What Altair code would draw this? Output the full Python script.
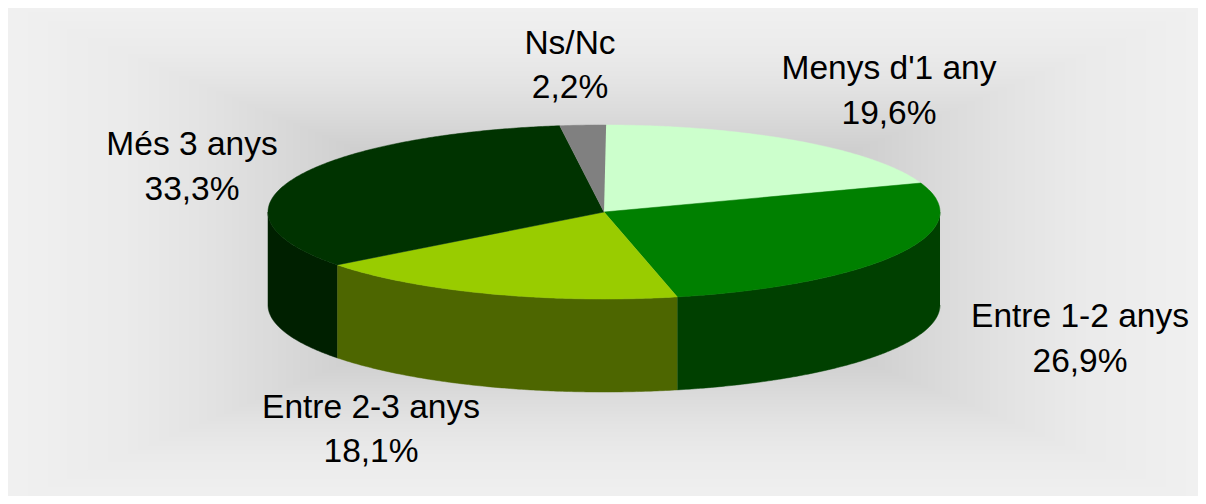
import numpy as np
import pandas as pd
import altair as alt

# Slices, clockwise from 12 o'clock
names = ["Menys d'1 any", "Entre 1-2 anys", "Entre 2-3 anys", "Més 3 anys", "Ns/Nc"]
shares = [19.6, 26.9, 18.1, 33.3, 2.2]
share_text = ["19,6%", "26,9%", "18,1%", "33,3%", "2,2%"]
top_colors = ["#ccffcc", "#008000", "#99cc00", "#003300", "#808080"]
wall_colors = ["#669966", "#004000", "#4d6600", "#002000", "#404040"]

# Label centres in page pixels
label_x = [889, 1080, 371, 192, 570]
label_y1 = [69, 317, 408, 145, 44]
label_y2 = [114, 362, 452, 190, 88]

# Pie layout in page pixels
CX, CY, RX, RY, DEPTH = 604, 212, 336, 87, 93
W, H = 1190, 488
LEFT, TOP = 8, 8

# Backdrop: nested boxes, one per grey level; stops of relative size against grey
stop_size = [1.0, 0.80, 0.68, 0.56, 0.44, 0.30, 0.20]
stop_grey = [240, 234, 227, 218, 208, 196, 188]
BOX_CX, BOX_CY, BOX_W, BOX_H = 607, 254, 599, 250

band_grey = list(range(240, 187, -1))
band_size = [float(np.interp(g, stop_grey[::-1], stop_size[::-1])) for g in band_grey]

bands = pd.DataFrame({
    "x": [max(LEFT, BOX_CX - s * BOX_W) for s in band_size],
    "x2": [min(LEFT + W, BOX_CX + s * BOX_W) for s in band_size],
    "y": [max(TOP, BOX_CY - s * BOX_H) for s in band_size],
    "y2": [min(TOP + H, BOX_CY + s * BOX_H) for s in band_size],
    "c": ["#%02x%02x%02x" % (g, g, g) for g in band_grey],
    "i": list(range(len(band_size))),
})

def pt(deg, dy=0.0):
    r = np.radians(deg)
    return CX + RX * np.sin(r), CY - RY * np.cos(r) + dy

tops, walls = [], []
start = 0.0
for name, share, tc, wc in zip(names, shares, top_colors, wall_colors):
    end = start + share * 3.6
    angles = np.linspace(start, end, max(2, int((end - start) * 2)))
    poly = [(CX, CY)] + [pt(a) for a in angles]
    tops += [{"n": name, "k": k, "x": p[0], "y": p[1], "c": tc} for k, p in enumerate(poly)]
    lo, hi = max(start, 90), min(end, 270)
    if hi > lo:
        arc = np.linspace(lo, hi, max(2, int((hi - lo) * 2)))
        poly = [pt(a) for a in arc] + [pt(a, DEPTH) for a in arc[::-1]]
        walls += [{"n": name, "k": k, "x": p[0], "y": p[1], "c": wc} for k, p in enumerate(poly)]
    start = end

x_s = alt.Scale(domain=[LEFT, LEFT + W], range=[0, W], nice=False, zero=False)
y_s = alt.Scale(domain=[TOP + H, TOP], range=[H, 0], nice=False, zero=False)
X = lambda f: alt.X(f, type="quantitative", scale=x_s, axis=None)
Y = lambda f: alt.Y(f, type="quantitative", scale=y_s, axis=None)

back = alt.Chart(bands).mark_rect(strokeWidth=0).encode(
    x=X("x"), x2="x2", y=Y("y"), y2="y2",
    fill=alt.Fill("c:N", scale=None),
    order=alt.Order("i:Q"),
)

def poly_layer(rows):
    return alt.Chart(pd.DataFrame(rows)).mark_line(strokeWidth=0.5, interpolate="linear").encode(
        x=X("x"), y=Y("y"),
        fill=alt.Fill("c:N", scale=None),
        stroke=alt.Stroke("c:N", scale=None),
        detail="n:N",
        order=alt.Order("k:Q"),
    )

labels = pd.DataFrame({
    "x": label_x + label_x,
    "y": label_y1 + label_y2,
    "t": names + share_text,
})
text = alt.Chart(labels).mark_text(
    font="Liberation Sans", fontSize=33.5, color="#000000", align="center", baseline="middle"
).encode(x=X("x"), y=Y("y"), text="t:N")

chart = alt.layer(back, poly_layer(walls), poly_layer(tops), text).properties(
    width=W, height=H, padding=0, background="#ffffff",
    autosize=alt.AutoSizeParams(type="none"),
).configure_view(stroke=None)

chart.save("out.html", embed_options={"renderer": "svg", "actions": False})
